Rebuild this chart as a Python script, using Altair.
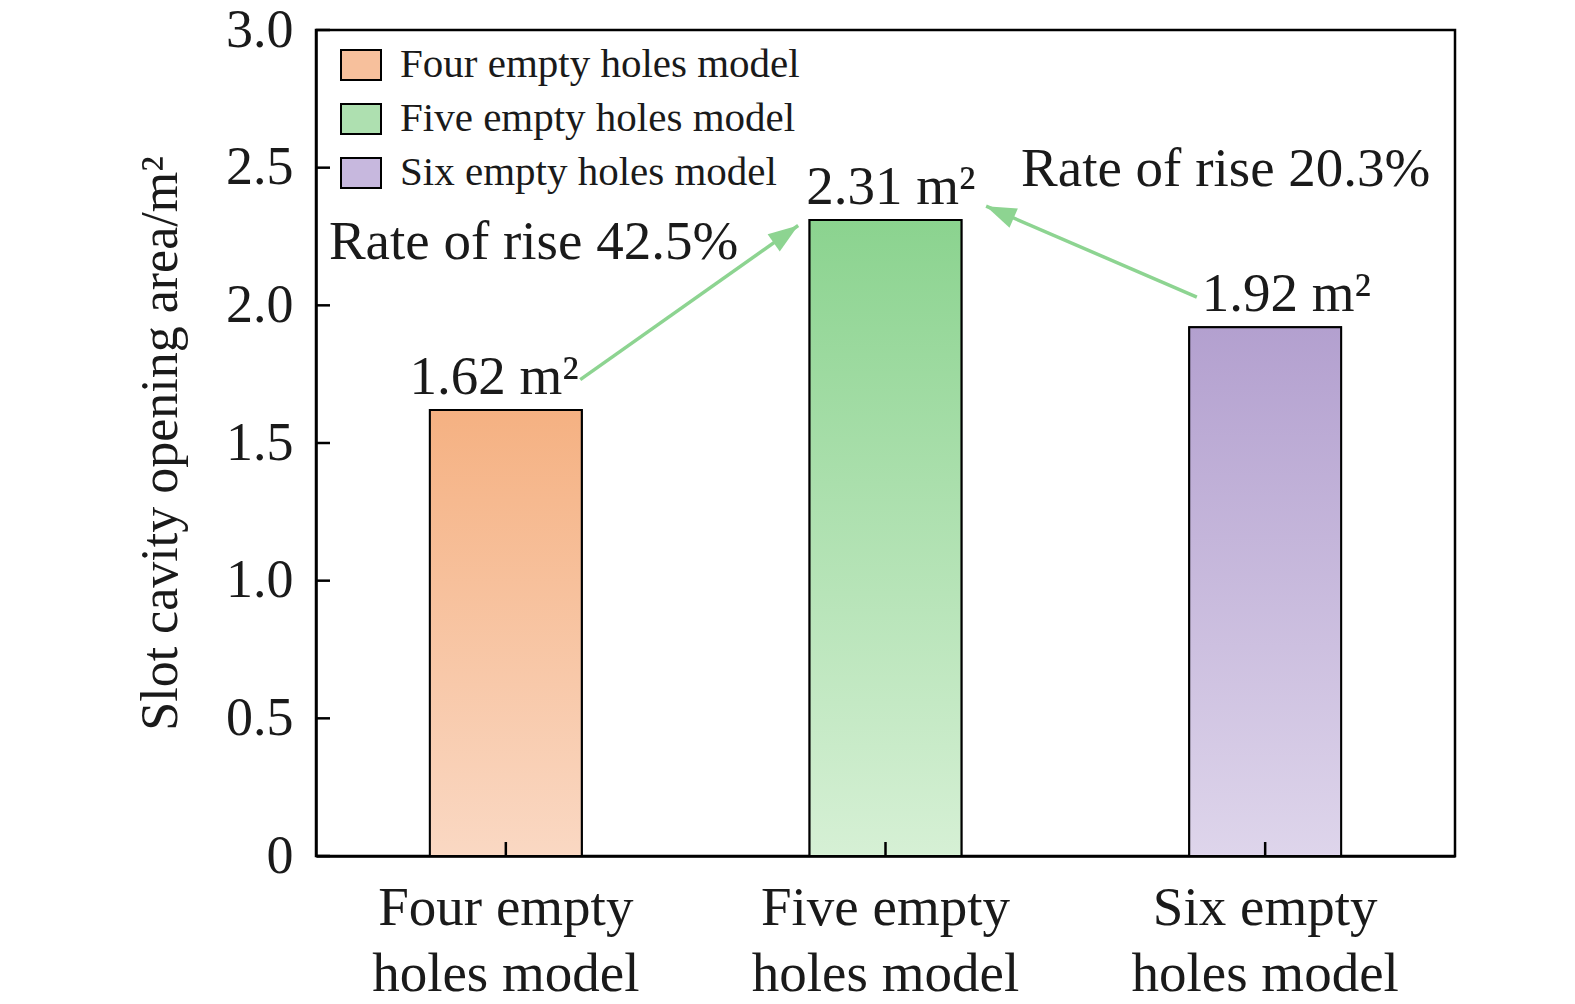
import math
import altair as alt
import pandas as pd

# ---------------- data ----------------
categories = ["Four empty holes model", "Five empty holes model", "Six empty holes model"]
areas = [1.62, 2.31, 1.92]
top_colors = ["#f5b182", "#8bd38f", "#b3a0cf"]
bottom_colors = ["#fad8c3", "#d6f0d5", "#ded5eb"]
legend_colors = ["#f7c09c", "#aee0b0", "#c7b8de"]

y_ticks = [0, 0.5, 1.0, 1.5, 2.0, 2.5, 3.0]

# value-label anchors (left edge, in category-index units along x)
label_x = [0.246, 1.291, 2.333]

rise_texts = ["Rate of rise 42.5%", "Rate of rise 20.3%"]
rise_x = [0.034, 1.857]
rise_y = [2.168, 2.434]

arrow_x_start = [0.696, 2.32]
arrow_y_start = [1.73, 2.03]
arrow_x_end = [1.27, 1.765]
arrow_y_end = [2.29, 2.36]

# ---------------- layout ----------------
W, H = 1139, 826
FONT = "Liberation Serif"
INK = "#1a1a1a"
GREEN = "#8dd491"

df = pd.DataFrame({"category": categories, "area": areas})
lab_df = pd.DataFrame({
    "lx": label_x, "area": areas,
    "label": [f"{v:.2f} m\u00b2" for v in areas],
})
tick_df = pd.DataFrame({"area": y_ticks})

# arrow head angle (pixel space, clockwise from up)
px_x = W / 3.0
px_y = H / 3.0
angles = []
for xs, ys, xe, ye in zip(arrow_x_start, arrow_y_start, arrow_x_end, arrow_y_end):
    dx = (xe - xs) * px_x
    dy = -(ye - ys) * px_y
    angles.append(math.degrees(math.atan2(dx, -dy)) % 360)

arrow_df = pd.DataFrame({
    "xs": arrow_x_start, "ys": arrow_y_start,
    "xe": arrow_x_end, "ye": arrow_y_end, "ang": angles,
})
rise_df = pd.DataFrame({"t": rise_texts, "tx": rise_x, "ty": rise_y})

x_scale = alt.Scale(domain=categories, paddingInner=0.6, paddingOuter=0.3)
y_scale = alt.Scale(domain=[0, 3], nice=False, zero=True)
Y_TITLE = "Slot cavity opening area/m\u00b2"

x_axis = alt.Axis(
    title=None,
    labelFont=FONT, labelFontSize=55, labelColor=INK, labelLimit=0,
    labelPadding=25, labelLineHeight=66, labelAngle=0,
    tickSize=0, domainColor="black", domainWidth=2.5,
    labelExpr="[slice(datum.label, 0, indexof(datum.label, ' holes')), 'holes model']",
)
y_axis = alt.Axis(
    title=Y_TITLE, values=y_ticks,
    labelFont=FONT, labelFontSize=54, labelColor=INK, labelPadding=23,
    labelExpr="datum.value == 0 ? '0' : format(datum.value, '.1f')",
    tickSize=0, domainColor="black", domainWidth=2.5, grid=False,
    titleFont=FONT, titleFontSize=52, titleFontWeight="normal", titleColor=INK,
    titleAngle=270, titleX=-140, titleY=H / 2, titleAlign="center",
    titleBaseline="alphabetic", titleLimit=0,
)

X = alt.X("category:N", sort=categories, scale=x_scale, axis=x_axis)
Y = alt.Y("area:Q", scale=y_scale, axis=y_axis)

legend = alt.Legend(
    title=None, orient="none", legendX=24, legendY=14, padding=0,
    labelFont=FONT, labelFontSize=41, labelColor=INK, labelOffset=18, labelLimit=0,
    symbolType="M-1,-0.75H1V0.75H-1Z", symbolSize=1600,
    symbolStrokeColor="black", symbolStrokeWidth=2, symbolOpacity=1,
    rowPadding=13,
)

base_bars = alt.Chart(df).mark_bar(stroke="black", strokeWidth=2).encode(
    x=X, y=Y,
    color=alt.Color("category:N", scale=alt.Scale(domain=categories, range=legend_colors),
                    legend=legend),
)

grad_layers = []
for cat, ct, cb in zip(categories, top_colors, bottom_colors):
    grad = alt.Gradient(
        gradient="linear",
        stops=[alt.GradientStop(color=cb, offset=0), alt.GradientStop(color=ct, offset=1)],
        x1=1, x2=1, y1=1, y2=0,
    )
    grad_layers.append(
        alt.Chart(df).transform_filter(alt.datum.category == cat)
        .mark_bar(color=grad, stroke="black", strokeWidth=2)
        .encode(x=X, y=Y)
    )

y_tick_rules = alt.Chart(tick_df).mark_rule(color="black", strokeWidth=2.5).encode(
    y=Y, x=alt.value(0), x2=alt.value(14)
)
x_tick_rules = alt.Chart(df).mark_rule(color="black", strokeWidth=2.5).encode(
    x=X, y=alt.value(H), y2=alt.value(H - 14)
)

main = alt.layer(base_bars, *grad_layers, y_tick_rules, x_tick_rules)

xq = alt.Scale(domain=[0, 3], nice=False, zero=False)
value_labels = alt.Chart(lab_df).mark_text(
    font=FONT, fontSize=55, color=INK, align="left", baseline="alphabetic", dy=-16
).encode(
    x=alt.X("lx:Q", scale=xq, axis=None),
    y=alt.Y("area:Q", scale=y_scale, axis=y_axis),
    text="label:N",
)
arrow_lines = alt.Chart(arrow_df).mark_rule(color=GREEN, strokeWidth=3.5).encode(
    x=alt.X("xs:Q", scale=xq, axis=None),
    x2="xe:Q",
    y=alt.Y("ys:Q", scale=y_scale, axis=y_axis),
    y2="ye:Q",
)
arrow_heads = alt.Chart(arrow_df).mark_point(
    shape="M0,0L-0.7,2L0.7,2Z", size=900, filled=True, color=GREEN, opacity=1
).encode(
    x=alt.X("xe:Q", scale=xq, axis=None),
    y=alt.Y("ye:Q", scale=y_scale, axis=y_axis),
    angle=alt.Angle("ang:Q", scale=None),
)
rise_labels = alt.Chart(rise_df).mark_text(
    font=FONT, fontSize=55, color=INK, align="left", baseline="alphabetic"
).encode(
    x=alt.X("tx:Q", scale=xq, axis=None),
    y=alt.Y("ty:Q", scale=y_scale, axis=y_axis),
    text="t:N",
)
annot = alt.layer(value_labels, arrow_lines, arrow_heads, rise_labels)

chart = (
    alt.layer(main, annot)
    .resolve_scale(x="independent")
    .properties(
        width=W, height=H,
        autosize=alt.AutoSizeParams(type="none"),
        padding={"left": 308, "top": 22, "right": 70, "bottom": 146},
        background="white",
    )
    .configure_view(stroke="black", strokeWidth=2.5)
    .configure_axis(grid=False)
)

chart.save("out.html", embed_options={"renderer": "svg", "actions": False})
